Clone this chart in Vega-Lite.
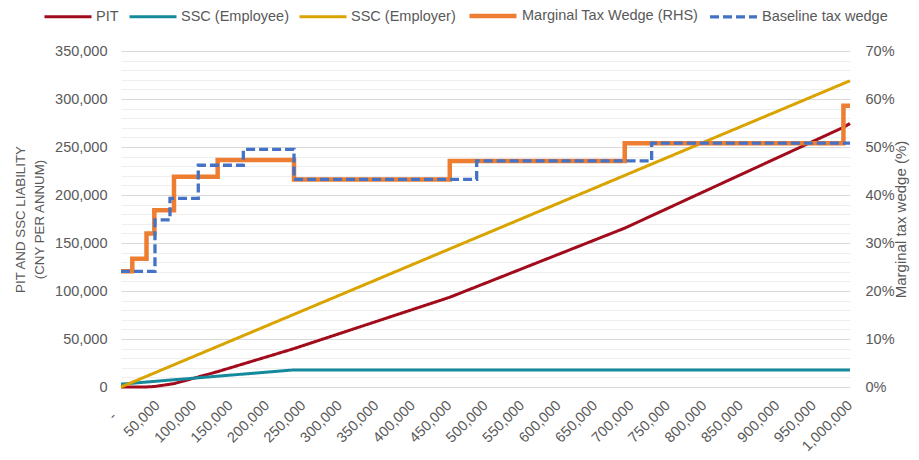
{
  "$schema": "https://vega.github.io/schema/vega-lite/v6.json",
  "width": 729,
  "height": 336,
  "autosize": {"type": "none"},
  "padding": {"left": 121, "top": 51, "right": 69, "bottom": 73},
  "config": {
    "view": {"stroke": null},
    "font": "Liberation Sans",
    "axis": {"labelFont": "Liberation Sans", "labelFontSize": 14.5, "labelColor": "#595959", "titleFont": "Liberation Sans", "titleColor": "#595959", "titleFontWeight": "normal"}
  },
  "datasets": {
    "left": [
      {"series": "PIT", "income": 0, "value": 0},
      {"series": "PIT", "income": 15500, "value": 0},
      {"series": "PIT", "income": 35000, "value": 100},
      {"series": "PIT", "income": 45700, "value": 500},
      {"series": "PIT", "income": 72700, "value": 3500},
      {"series": "PIT", "income": 132600, "value": 16000},
      {"series": "PIT", "income": 237300, "value": 40000},
      {"series": "PIT", "income": 451000, "value": 93500},
      {"series": "PIT", "income": 691000, "value": 165500},
      {"series": "PIT", "income": 991000, "value": 270500},
      {"series": "PIT", "income": 1000000, "value": 274500},
      {"series": "SSC (Employee)", "income": 0, "value": 3000},
      {"series": "SSC (Employee)", "income": 237300, "value": 17800},
      {"series": "SSC (Employee)", "income": 1000000, "value": 17800},
      {"series": "SSC (Employer)", "income": 0, "value": 0},
      {"series": "SSC (Employer)", "income": 1000000, "value": 319000}
    ],
    "wedge": [
      {"series": "Marginal Tax Wedge (RHS)", "income": 0, "value": 24.1},
      {"series": "Marginal Tax Wedge (RHS)", "income": 15500, "value": 26.7},
      {"series": "Marginal Tax Wedge (RHS)", "income": 35000, "value": 32.0},
      {"series": "Marginal Tax Wedge (RHS)", "income": 45700, "value": 36.8},
      {"series": "Marginal Tax Wedge (RHS)", "income": 72700, "value": 43.8},
      {"series": "Marginal Tax Wedge (RHS)", "income": 132600, "value": 47.3},
      {"series": "Marginal Tax Wedge (RHS)", "income": 237300, "value": 43.25},
      {"series": "Marginal Tax Wedge (RHS)", "income": 451000, "value": 47.1},
      {"series": "Marginal Tax Wedge (RHS)", "income": 691000, "value": 50.8},
      {"series": "Marginal Tax Wedge (RHS)", "income": 991000, "value": 58.6},
      {"series": "Marginal Tax Wedge (RHS)", "income": 1000000, "value": 58.6}
    ],
    "base": [
      {"series": "Baseline tax wedge", "income": 0, "value": 24.1},
      {"series": "Baseline tax wedge", "income": 46600, "value": 34.8},
      {"series": "Baseline tax wedge", "income": 67200, "value": 39.3},
      {"series": "Baseline tax wedge", "income": 106000, "value": 46.2},
      {"series": "Baseline tax wedge", "income": 167800, "value": 49.5},
      {"series": "Baseline tax wedge", "income": 237300, "value": 43.25},
      {"series": "Baseline tax wedge", "income": 487900, "value": 47.1},
      {"series": "Baseline tax wedge", "income": 727900, "value": 50.8},
      {"series": "Baseline tax wedge", "income": 1000000, "value": 50.8}
    ]
  },
  "encoding": {
    "x": {
      "field": "income", "type": "quantitative",
      "scale": {"domain": [0, 1000000], "nice": false},
      "axis": {
        "values": [0, 50000, 100000, 150000, 200000, 250000, 300000, 350000, 400000, 450000, 500000, 550000, 600000, 650000, 700000, 750000, 800000, 850000, 900000, 950000, 1000000],
        "labelAngle": -45, "labelAlign": "right", "labelBaseline": "middle",
        "labelPadding": {"condition": {"test": "datum.value === 0", "value": 27}, "value": 16},
        "labelOffset": {"condition": {"test": "datum.value === 0", "value": -7}, "value": 0},
        "labelExpr": "datum.value === 0 ? '-' : format(datum.value, ',')",
        "grid": false, "ticks": false, "domain": false, "title": null, "labelOverlap": false, "labelFlush": false
      }
    },
    "color": {
      "field": "series", "type": "nominal",
      "scale": {"domain": ["PIT", "SSC (Employee)", "SSC (Employer)", "Marginal Tax Wedge (RHS)", "Baseline tax wedge"], "range": ["#A10C1C", "#148A9C", "#D9A400", "#ED7D31", "#4472C4"]},
      "legend": {"title": null, "orient": "none", "legendX": -78, "legendY": -61, "direction": "horizontal", "symbolType": "stroke", "symbolSize": 2209, "labelFont": "Liberation Sans", "labelFontSize": 14.5, "labelColor": "#595959", "labelOffset": 3, "columnPadding": 4, "labelLimit": 300}
    },
    "strokeDash": {
      "field": "series", "type": "nominal",
      "scale": {"domain": ["PIT", "SSC (Employee)", "SSC (Employer)", "Marginal Tax Wedge (RHS)", "Baseline tax wedge"], "range": [[1, 0], [1, 0], [1, 0], [1, 0], [9, 4]]},
      "legend": {"title": null, "orient": "none", "legendX": -78, "legendY": -61, "direction": "horizontal", "symbolType": "stroke", "symbolSize": 2209, "labelFont": "Liberation Sans", "labelFontSize": 14.5, "labelColor": "#595959", "labelOffset": 3, "columnPadding": 4, "labelLimit": 300}
    },
    "strokeWidth": {
      "field": "series", "type": "nominal",
      "scale": {"type": "ordinal", "domain": ["PIT", "SSC (Employee)", "SSC (Employer)", "Marginal Tax Wedge (RHS)", "Baseline tax wedge"], "range": [3, 3, 3, 4.5, 3.3]},
      "legend": {"title": null, "orient": "none", "legendX": -78, "legendY": -61, "direction": "horizontal", "symbolType": "stroke", "symbolSize": 2209, "labelFont": "Liberation Sans", "labelFontSize": 14.5, "labelColor": "#595959", "labelOffset": 3, "columnPadding": 4, "labelLimit": 300}
    }
  },
  "layer": [
    {
      "data": {"name": "left"},
      "mark": {"type": "line"},
      "encoding": {
        "y": {
          "field": "value", "type": "quantitative",
          "scale": {"domain": [0, 350000], "nice": false},
          "axis": {
            "orient": "left",
            "values": [0, 10000, 20000, 30000, 40000, 50000, 60000, 70000, 80000, 90000, 100000, 110000, 120000, 130000, 140000, 150000, 160000, 170000, 180000, 190000, 200000, 210000, 220000, 230000, 240000, 250000, 260000, 270000, 280000, 290000, 300000, 310000, 320000, 330000, 340000, 350000],
            "labelExpr": "datum.value % 50000 === 0 ? format(datum.value, ',') : ''",
            "grid": true,
            "gridColor": {"condition": {"test": "datum.value % 50000 === 0", "value": "#d9d9d9"}, "value": "#efefef"},
            "ticks": false, "domain": false, "labelPadding": 14, "labelOverlap": false,
            "title": ["PIT AND SSC LIABILITY", "(CNY PER ANNUM)"],
            "titleFontSize": 13.3, "titleLineHeight": 19, "titlePadding": 8
          }
        }
      }
    },
    {
      "layer": [
        {"data": {"name": "wedge"}, "mark": {"type": "line", "interpolate": "step-after"}},
        {"data": {"name": "base"}, "mark": {"type": "line", "interpolate": "step-after"}}
      ],
      "encoding": {
        "y": {
          "field": "value", "type": "quantitative",
          "scale": {"domain": [0, 70], "nice": false},
          "axis": {
            "orient": "right",
            "values": [0, 10, 20, 30, 40, 50, 60, 70],
            "labelExpr": "datum.value + '%'",
            "grid": false, "ticks": false, "domain": false, "labelPadding": 15, "labelOverlap": false,
            "title": "Marginal tax wedge (%)", "titleAngle": 270, "titleFontSize": 15, "titlePadding": 14
          }
        }
      }
    }
  ],
  "resolve": {"scale": {"y": "independent"}}
}
